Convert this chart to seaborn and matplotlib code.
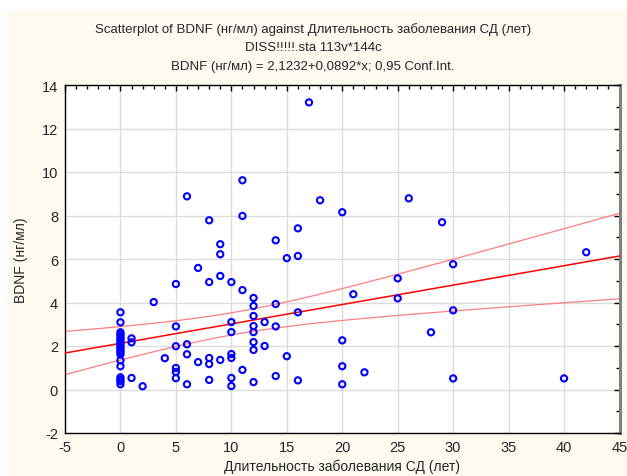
import numpy as np
import pandas as pd
import matplotlib
matplotlib.use("Agg")
import matplotlib.pyplot as plt
from matplotlib.patches import Rectangle
from matplotlib.ticker import MultipleLocator
import seaborn as sns

# Disease duration (years) and BDNF level (ng/ml) for each patient
duration = (
    [0] * 20
    + [1, 1, 1, 2, 3, 4]
    + [5] * 6
    + [6] * 4
    + [7] * 2
    + [8] * 5
    + [9] * 4
    + [10] * 7
    + [11] * 4
    + [12] * 8
    + [13] * 2
    + [14] * 4
    + [15] * 2
    + [16] * 4
    + [17, 18]
    + [20] * 4
    + [21, 22, 25, 25, 26, 28, 29, 30, 30, 30, 40, 42]
)
bdnf = (
    [3.55, 3.09, 2.63, 2.54, 2.45, 2.35, 2.26, 2.17, 2.08, 1.99,
     1.89, 1.80, 1.71, 1.62, 1.34, 1.07, 0.56, 0.47, 0.38, 0.24]
    + [2.35, 2.17, 0.53, 0.15, 4.02, 1.44]
    + [4.85, 2.90, 1.99, 0.99, 0.81, 0.52]
    + [8.88, 2.08, 1.62, 0.24]
    + [5.59, 1.26]
    + [7.78, 4.94, 1.45, 1.17, 0.44]
    + [6.68, 6.22, 5.22, 1.36]
    + [4.94, 3.10, 2.64, 1.63, 1.45, 0.53, 0.16]
    + [9.62, 7.98, 4.57, 0.90]
    + [4.21, 3.84, 3.38, 2.92, 2.64, 2.18, 1.82, 0.34]
    + [3.10, 2.00]
    + [6.86, 3.93, 2.90, 0.62]
    + [6.04, 1.53]
    + [7.41, 6.14, 3.55, 0.42]
    + [13.2, 8.70]
    + [8.15, 2.26, 1.07, 0.24]
    + [4.38, 0.79, 5.11, 4.19, 8.79, 2.63, 7.69, 5.76, 3.64, 0.51, 0.51, 6.31]
)

# Fitted regression: BDNF = 2.1232 + 0.0892 * x
intercept = 2.1232
slope = 0.0892
conf_level = 0.95

x_ticks = [-5, 0, 5, 10, 15, 20, 25, 30, 35, 40, 45]
y_ticks = [-2, 0, 2, 4, 6, 8, 10, 12, 14]

df = pd.DataFrame({"x": duration, "y": bdnf})

# Confidence band of the mean prediction
n = len(df)
xbar = df["x"].mean()
sxx = ((df["x"] - xbar) ** 2).sum()
resid = df["y"] - (intercept + slope * df["x"])
s = np.sqrt((resid ** 2).sum() / (n - 2))
t_crit = 1.9855
xs = np.linspace(x_ticks[0], x_ticks[-1], 200)
fit = intercept + slope * xs
half = t_crit * s * np.sqrt(1.0 / n + (xs - xbar) ** 2 / sxx)

sns.set_style("white")
plt.rcParams["font.family"] = ["Liberation Sans", "DejaVu Sans"]
plt.rcParams["axes.unicode_minus"] = False

fig = plt.figure(figsize=(6.27, 4.77), dpi=100)
fig.patch.set_facecolor("white")
fig.patches.append(Rectangle((7 / 627, 0), 1, 1 - 11 / 477, transform=fig.transFigure,
                             facecolor="#fffaef", edgecolor="none", zorder=-10))

ax = fig.add_axes([65 / 627, 1 - 434 / 477, (619.5 - 65) / 627, (434 - 86) / 477])
ax.set_facecolor("white")

ax.grid(True, color="#dcdcdc", linewidth=1.0)
ax.set_axisbelow(True)

ax.plot(xs, fit + half, color="#ff7f7f", linewidth=0.9, zorder=2)
ax.plot(xs, fit - half, color="#ff7f7f", linewidth=0.9, zorder=2)
ax.plot(xs, fit, color="#ff0000", linewidth=1.1, zorder=3)

sns.scatterplot(data=df, x="x", y="y", ax=ax, marker="o", s=20,
                facecolors="none", edgecolor="#0000ff", linewidth=1.5, zorder=4)

ax.set_xlim(x_ticks[0], x_ticks[-1])
ax.set_ylim(y_ticks[0], y_ticks[-1])
ax.set_xticks(x_ticks)
ax.set_yticks(y_ticks)
ax.xaxis.set_minor_locator(MultipleLocator(1))
ax.yaxis.set_minor_locator(MultipleLocator(1))
ax.tick_params(which="both", direction="in", top=True, right=True, color="black")
ax.tick_params(which="major", length=4, width=1, labelsize=10.5, pad=5)
ax.tick_params(which="minor", length=3, width=1)

for side in ["left", "bottom", "top"]:
    ax.spines[side].set_color("black")
    ax.spines[side].set_linewidth(1.0)
ax.spines["right"].set_color("#808080")
ax.spines["right"].set_linewidth(2.2)

ax.set_xlabel("Длительность заболевания СД (лет)", fontsize=10, labelpad=3)
ax.set_ylabel("BDNF (нг/мл)", fontsize=10, labelpad=10)

fig.text(313 / 627, 1 - 30 / 477, "Scatterplot of BDNF (нг/мл) against Длительность заболевания СД (лет)",
         ha="center", va="center", fontsize=9.5)
fig.text(313 / 627, 1 - 48 / 477, "DISS!!!!!.sta 113v*144c", ha="center", va="center", fontsize=9.5)
fig.text(313 / 627, 1 - 67 / 477, "BDNF (нг/мл) = 2,1232+0,0892*x; 0,95 Conf.Int.",
         ha="center", va="center", fontsize=9.5)

fig.savefig("out.png", dpi=100, facecolor=fig.get_facecolor())
